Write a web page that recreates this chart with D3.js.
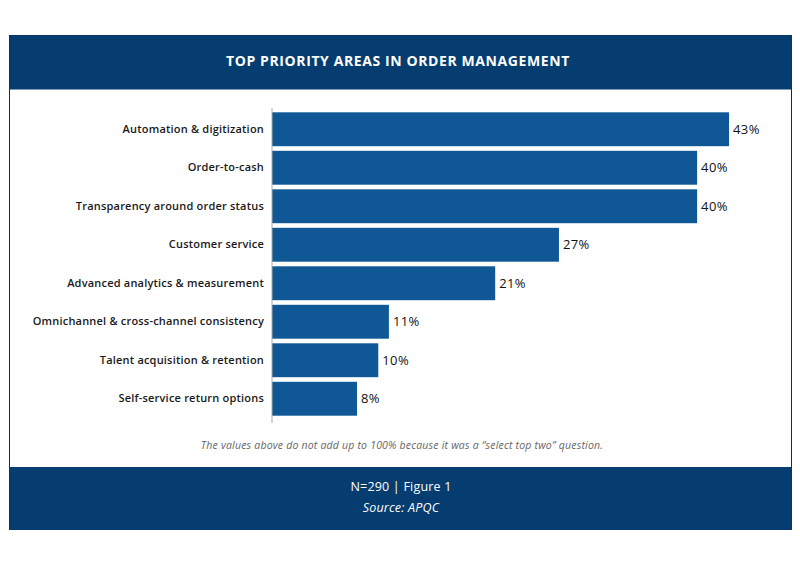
<!DOCTYPE html>
<html>
<head>
<meta charset="utf-8">
<script src="https://cdn.jsdelivr.net/npm/d3@7"></script>
<style>
  body { margin: 0; background: #fff; }
  text { font-family: "Open Sans", "Lato", sans-serif; }
</style>
</head>
<body>
<svg width="800" height="566"></svg>
<script>
// data
var categories = ["Automation & digitization", "Order-to-cash", "Transparency around order status",
  "Customer service", "Advanced analytics & measurement", "Omnichannel & cross-channel consistency",
  "Talent acquisition & retention", "Self-service return options"];
var values = [43, 40, 40, 27, 21, 11, 10, 8];

var svg = d3.select("svg"),
    width = +svg.attr("width"),
    height = +svg.attr("height");

var navy = "#063d70", barColor = "#0f5895";

// frame
svg.append("rect").attr("x", 9.5).attr("y", 35.5).attr("width", 782).attr("height", 494)
  .attr("fill", "#fff").attr("stroke", "#0a2f55").attr("stroke-width", 1);

// header
svg.append("rect").attr("x", 9.5).attr("y", 35.5).attr("width", 782).attr("height", 54).attr("fill", navy);
svg.append("text").attr("x", 398).attr("y", 66).attr("text-anchor", "middle")
  .attr("fill", "#fff").attr("font-size", 14).attr("font-weight", 700)
  .attr("letter-spacing", 0.6)
  .text("TOP PRIORITY AREAS IN ORDER MANAGEMENT");

// footer
svg.append("rect").attr("x", 9.5).attr("y", 467).attr("width", 782).attr("height", 63).attr("fill", navy);
svg.append("text").attr("x", 401).attr("y", 491).attr("text-anchor", "middle")
  .attr("fill", "#fff").attr("font-size", 12.5).attr("letter-spacing", 0.2).text("N=290 | Figure 1");
svg.append("text").attr("x", 401).attr("y", 512).attr("text-anchor", "middle")
  .attr("fill", "#fff").attr("font-size", 12.5).attr("font-style", "italic").attr("letter-spacing", 0.2)
  .text("Source: APQC");

// footnote
svg.append("text").attr("x", 402).attr("y", 449).attr("text-anchor", "middle")
  .attr("fill", "#666").attr("font-size", 10.5).attr("font-style", "italic")
  .attr("letter-spacing", 0.2)
  .text("The values above do not add up to 100% because it was a \u201cselect top two\u201d question.");

// scales
var x = d3.scaleLinear().domain([0, 43]).range([272, 729]);
var y = d3.scaleBand().domain(categories).range([110, 418]).paddingInner(0.12).paddingOuter(0.06);

var g = svg.append("g");

g.selectAll("rect.bar")
  .data(values)
  .enter().append("rect")
    .attr("class", "bar")
    .attr("x", x(0))
    .attr("y", function(d, i) { return y(categories[i]); })
    .attr("width", function(d) { return x(d) - x(0); })
    .attr("height", y.bandwidth())
    .attr("fill", barColor);

g.selectAll("text.val")
  .data(values)
  .enter().append("text")
    .attr("class", "val")
    .attr("x", function(d) { return x(d) + 4; })
    .attr("y", function(d, i) { return y(categories[i]) + y.bandwidth() / 2; })
    .attr("dy", "0.36em")
    .attr("font-size", 13)
    .attr("font-weight", 500)
    .attr("fill", "#111")
    .attr("letter-spacing", 0.4)
    .text(function(d) { return d + "%"; });

// category axis
var axis = svg.append("g")
  .attr("transform", "translate(" + x(0) + ",0)")
  .call(d3.axisLeft(y).tickSize(0).tickPadding(8));
axis.select(".domain").attr("stroke", "#aaa").attr("d", "M0,108V423");
axis.selectAll(".tick text").attr("font-size", 11).attr("fill", "#1a1a1a")
  .attr("font-family", "'Open Sans', Lato, sans-serif").attr("font-weight", 600)
  .attr("letter-spacing", 0.2);
</script>
</body>
</html>
